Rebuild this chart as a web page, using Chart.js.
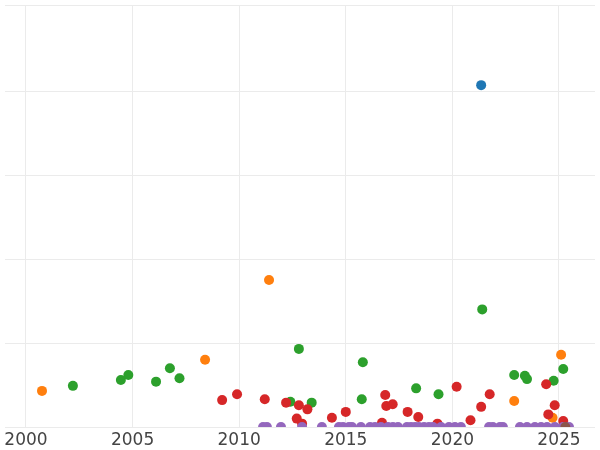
<!DOCTYPE html><html><head><script src="https://cdn.jsdelivr.net/npm/chart.js@4"></script>
<style>html,body{margin:0;padding:0;background:#fff}#w{width:600px;height:450px}</style></head><body><div id="w"><canvas id="c"></canvas></div>
<script>
const blueX=[2021.35], blueY=[4.07];
const orangeX=[2000.75,2008.4,2011.4,2022.9,2025.1,2024.7], orangeY=[0.43,0.80,1.75,0.31,0.86,0.11];
const greenX=[2002.2,2004.45,2004.8,2006.1,2006.75,2007.2,2012.4,2012.8,2013.4,2015.8,2015.75,2018.3,2019.35,2021.4,2022.9,2023.4,2023.5,2024.75,2025.2];
const greenY=[0.49,0.56,0.62,0.54,0.70,0.58,0.30,0.93,0.29,0.77,0.33,0.46,0.39,1.40,0.62,0.61,0.57,0.55,0.69];
const redX=[2009.2,2009.9,2011.2,2012.2,2012.8,2013.2,2012.7,2012.95,2014.35,2015.0,2016.7,2016.85,2016.9,2017.2,2017.9,2018.4,2019.3,2020.2,2020.85,2021.35,2021.75,2024.4,2024.5,2024.8,2025.2];
const redY=[0.32,0.39,0.33,0.29,0.26,0.21,0.10,0.04,0.11,0.18,0.05,0.38,0.25,0.27,0.18,0.12,0.04,0.48,0.08,0.24,0.39,0.51,0.15,0.26,0.07];
const purpleX=[2011.12,2011.30,2011.96,2012.95,2013.88,2014.68,2014.87,2015.15,2015.29,2015.71,2016.14,2016.37,2016.65,2016.98,2017.21,2017.45,2017.87,2018.06,2018.25,2018.43,2018.67,2018.90,2019.09,2019.47,2019.84,2020.12,2020.40,2021.72,2021.90,2022.23,2022.37,2023.17,2023.50,2023.87,2024.16,2024.44,2024.81,2025.19,2025.47];
const purpleY=purpleX.map(()=>0);
const brownX=[2025.3], brownY=[0];
const pts=(xs,ys)=>xs.map((x,i)=>({x,y:ys[i]}));
const ds=(xs,ys,c)=>({data:pts(xs,ys),backgroundColor:c,borderWidth:0,pointRadius:5,pointHoverRadius:5});
new Chart(document.getElementById('c'),{type:'scatter',
data:{datasets:[ds(brownX,brownY,'#8c564b'),ds(purpleX,purpleY,'#9467bd'),ds(redX,redY,'#d62728'),ds(greenX,greenY,'#2ca02c'),ds(orangeX,orangeY,'#ff7f0e'),ds(blueX,blueY,'#1f77b4')]},
options:{responsive:true,maintainAspectRatio:false,animation:false,layout:{padding:0},
plugins:{legend:{display:false},tooltip:{enabled:false}},
scales:{
x:{type:'linear',min:1999.015,max:2026.69,afterBuildTicks:a=>{a.ticks=[2000,2005,2010,2015,2020,2025].map(v=>({value:v}));},
afterFit:a=>{a.height=23;},border:{display:false},grid:{color:'#ebebeb',drawTicks:false},
ticks:{padding:3,color:'#444',font:{family:'DejaVu Sans',size:17},callback:v=>String(v),maxRotation:0}},
y:{min:0,max:5.024,display:true,border:{display:false},afterFit:a=>{a.width=0;},grid:{color:'#ebebeb',drawTicks:false},ticks:{display:false,stepSize:1}}
}}});
</script></body></html>
